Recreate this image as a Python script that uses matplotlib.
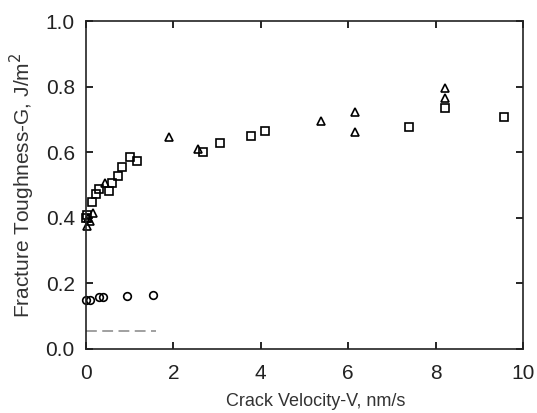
import matplotlib
matplotlib.use("Agg")
import matplotlib.pyplot as plt
from matplotlib.ticker import MultipleLocator

plt.rcParams['font.family'] = ['Liberation Sans', 'DejaVu Sans']

# squares
sq_v = [0.0, 0.03, 0.13, 0.23, 0.30, 0.53, 0.60, 0.73, 0.82, 1.01, 1.16,
        2.67, 3.07, 3.78, 4.10, 7.38, 8.21, 9.57]
sq_g = [0.40, 0.41, 0.448, 0.473, 0.489, 0.482, 0.507, 0.529, 0.556, 0.586, 0.572,
        0.602, 0.627, 0.649, 0.665, 0.678, 0.735, 0.708]

# triangles
tri_v = [0.02, 0.05, 0.10, 0.17, 0.43, 1.90, 2.57, 5.38, 6.16, 6.16, 8.21, 8.21]
tri_g = [0.375, 0.40, 0.39, 0.415, 0.505, 0.646, 0.611, 0.695, 0.723, 0.663, 0.795, 0.764]

# circles
cir_v = [0.0, 0.10, 0.30, 0.40, 0.95, 1.53]
cir_g = [0.149, 0.149, 0.159, 0.159, 0.163, 0.166]

# dashed reference line
ref_v = [0.0, 1.6]
ref_g = [0.055, 0.055]

fig = plt.figure(figsize=(5.37, 4.13), dpi=100)
ax = fig.add_axes([0.160, 0.155, 0.814, 0.794])

mk = dict(linestyle='none', markerfacecolor='none', markeredgecolor='black',
          markeredgewidth=1.2, markersize=5.5, clip_on=False)
ax.plot(ref_v, ref_g, linestyle=(0, (6, 3)), color='#999999', linewidth=1.3)
ax.plot(sq_v, sq_g, marker='s', **mk)
ax.plot(tri_v, tri_g, marker='^', **mk)
ax.plot(cir_v, cir_g, marker='o', **mk)

ax.set_xlim(0, 10)
ax.set_ylim(0, 1.0)
ax.xaxis.set_major_locator(MultipleLocator(2))
ax.yaxis.set_major_locator(MultipleLocator(0.2))
ax.yaxis.set_major_formatter(plt.FormatStrFormatter('%.1f'))
ax.tick_params(direction='in', length=5, width=1.2, top=True, right=True,
               labelsize=15, labelcolor='#222222')
ax.tick_params(axis='x', pad=11)
ax.tick_params(axis='y', pad=8)
for s in ax.spines.values():
    s.set_linewidth(1.2)
    s.set_color('#222222')

ax.set_xlabel('Crack Velocity-V, nm/s', fontsize=13, color='#333333')
ax.xaxis.set_label_coords(0.525, -0.135)
ax.set_ylabel('Fracture Toughness-G, J/m$^2$', fontsize=15, color='#333333', labelpad=6)

fig.savefig('out.png', dpi=100)
